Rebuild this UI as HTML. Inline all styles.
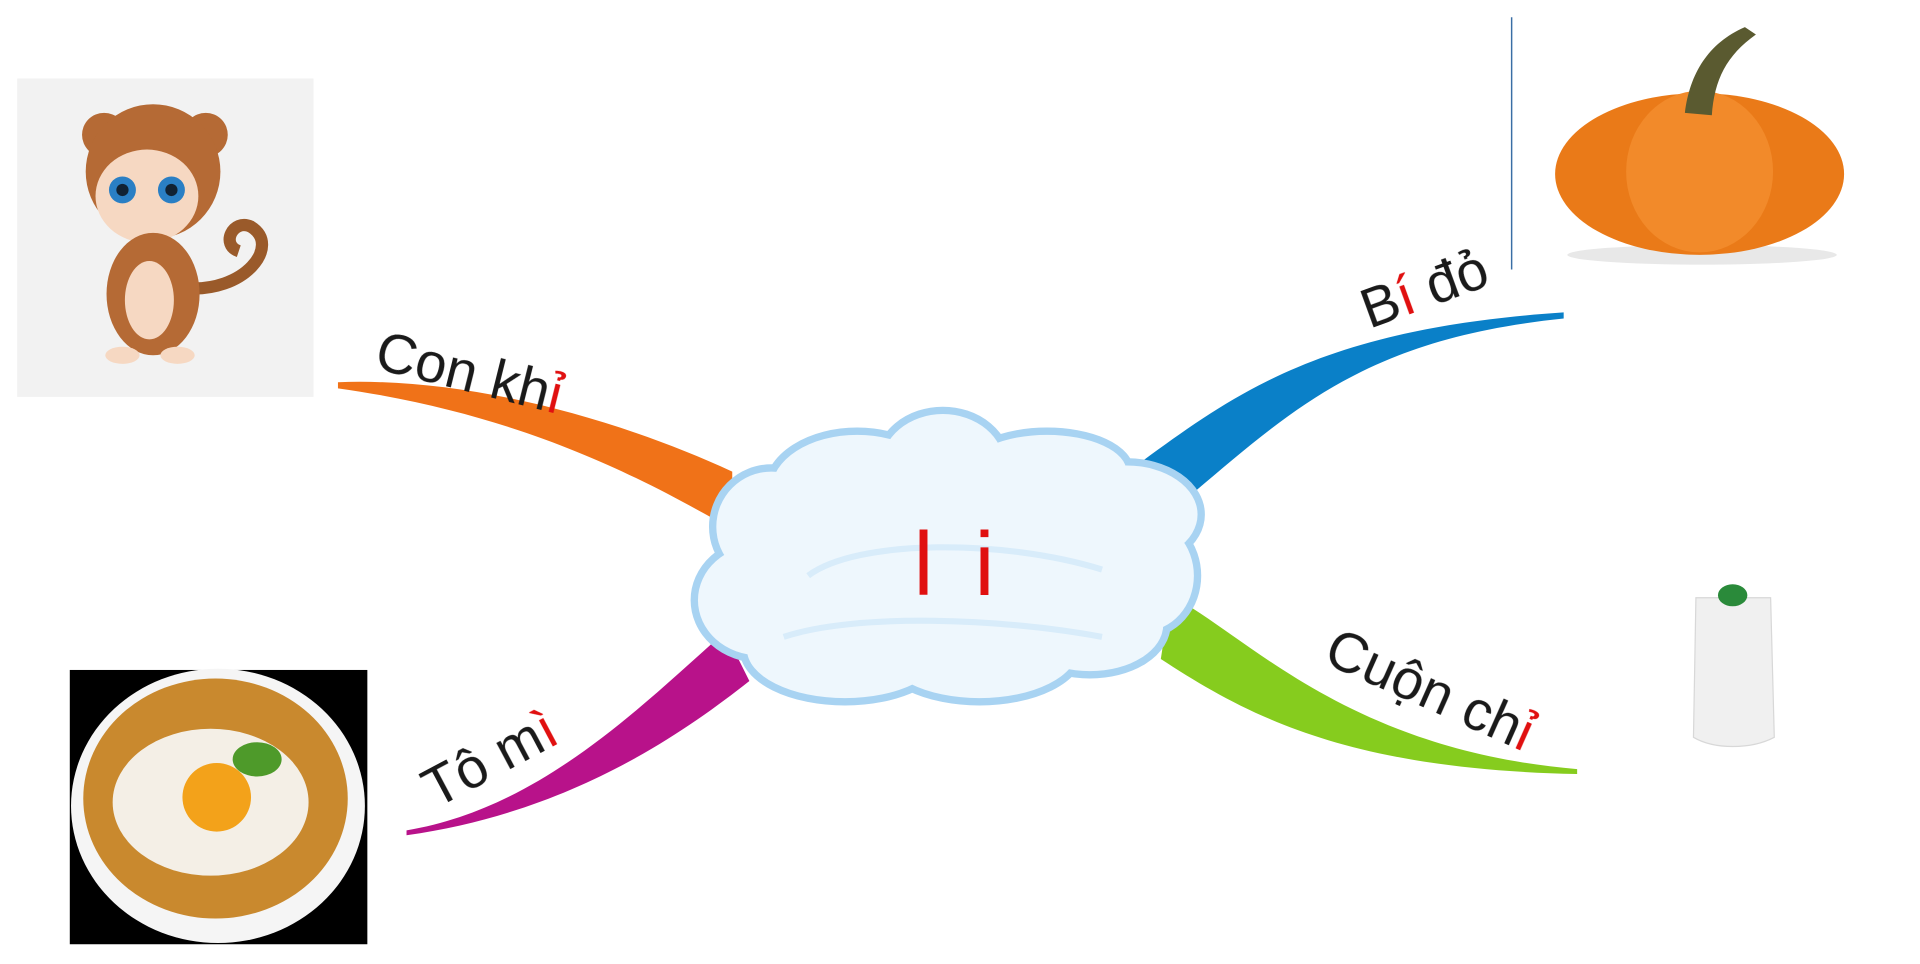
<!DOCTYPE html>
<html><head><meta charset="utf-8"><style>
html,body{margin:0;padding:0;background:#fff;width:1920px;height:964px;overflow:hidden;position:relative}
svg{display:block;position:absolute;left:0;top:0}
.t{position:absolute;font-family:"Liberation Sans",Arial,sans-serif;font-size:56px;line-height:56px;height:56px;color:#1a1a1a;white-space:nowrap;transform-origin:0 46px;text-rendering:geometricPrecision;will-change:transform}
.r{color:#e01010}
.c{position:absolute;font-family:"Liberation Sans",Arial,sans-serif;font-size:90px;line-height:90px;color:#e01010;left:888px;top:520px;width:140px;text-align:center;letter-spacing:8px}
</style></head><body>
<svg width="1920" height="964" viewBox="0 0 1568 787" xmlns="http://www.w3.org/2000/svg">
<path d="M276,312 C380,308 500,340 598,385 L598,432 C540,400 440,340 276,317 Z" fill="#f07218"/>
<path d="M928,380 C1010,320 1080,268 1277,255 L1277,260 C1120,276 1060,330 975,402 Z" fill="#0a80c8"/>
<path d="M592,516 C520,580 440,660 332,678 L332,682 C460,664 550,605 612,556 Z" fill="#b8128a"/>
<path d="M956,486 C1020,520 1100,612 1288,628 L1288,632 C1100,628 1020,585 948,538 Z" fill="#86cc1e"/>
<g fill="none" stroke="#a8d3f2" stroke-width="12">
<ellipse cx="700" cy="400" rx="70" ry="45"/>
<ellipse cx="770" cy="380" rx="50" ry="42"/>
<ellipse cx="855" cy="385" rx="65" ry="30"/>
<ellipse cx="920" cy="420" rx="58" ry="40"/>
<ellipse cx="935" cy="470" rx="40" ry="45"/>
<ellipse cx="890" cy="510" rx="60" ry="38"/>
<ellipse cx="800" cy="530" rx="80" ry="40"/>
<ellipse cx="690" cy="530" rx="80" ry="40"/>
<ellipse cx="620" cy="490" rx="50" ry="45"/>
<ellipse cx="630" cy="430" rx="45" ry="45"/>
</g>
<g fill="#eef7fd">
<ellipse cx="700" cy="400" rx="70" ry="45"/>
<ellipse cx="770" cy="380" rx="50" ry="42"/>
<ellipse cx="855" cy="385" rx="65" ry="30"/>
<ellipse cx="920" cy="420" rx="58" ry="40"/>
<ellipse cx="935" cy="470" rx="40" ry="45"/>
<ellipse cx="890" cy="510" rx="60" ry="38"/>
<ellipse cx="800" cy="530" rx="80" ry="40"/>
<ellipse cx="690" cy="530" rx="80" ry="40"/>
<ellipse cx="620" cy="490" rx="50" ry="45"/>
<ellipse cx="630" cy="430" rx="45" ry="45"/>
<rect x="620" y="400" width="320" height="130"/>
</g>
<path d="M660,470 C700,440 820,440 900,465" fill="none" stroke="#d8ecfa" stroke-width="5"/>
<path d="M640,520 C700,500 820,505 900,520" fill="none" stroke="#d8ecfa" stroke-width="5"/>
<rect x="14" y="64" width="242" height="260" fill="#f2f2f2"/>
<path d="M150,235 C200,240 230,200 205,185 C190,178 180,200 195,205" fill="none" stroke="#9a5a2a" stroke-width="10"/>
<circle cx="85" cy="110" r="18" fill="#b56a35"/>
<circle cx="168" cy="110" r="18" fill="#b56a35"/>
<ellipse cx="125" cy="140" rx="55" ry="55" fill="#b56a35"/>
<ellipse cx="120" cy="160" rx="42" ry="38" fill="#f6d8c2"/>
<circle cx="100" cy="155" r="11" fill="#2a7fc4"/><circle cx="140" cy="155" r="11" fill="#2a7fc4"/>
<circle cx="100" cy="155" r="5" fill="#123"/><circle cx="140" cy="155" r="5" fill="#123"/>
<ellipse cx="125" cy="240" rx="38" ry="50" fill="#b56a35"/>
<ellipse cx="122" cy="245" rx="20" ry="32" fill="#f6d8c2"/>
<ellipse cx="100" cy="290" rx="14" ry="7" fill="#f6d8c2"/><ellipse cx="145" cy="290" rx="14" ry="7" fill="#f6d8c2"/>
<line x1="1234.5" y1="14" x2="1234.5" y2="220" stroke="#3a6ea5" stroke-width="1.2"/>
<ellipse cx="1390" cy="208" rx="110" ry="8" fill="#e8e8e8"/>
<ellipse cx="1388" cy="142" rx="118" ry="66" fill="#ea7a18"/>
<ellipse cx="1388" cy="140" rx="60" ry="66" fill="#f28a2a"/>
<path d="M1376,92 C1380,60 1395,35 1425,22 L1434,28 C1410,45 1400,65 1398,94 Z" fill="#5a5a30"/>
<rect x="57" y="547" width="243" height="224" fill="#000"/>
<ellipse cx="178" cy="658" rx="120" ry="112" fill="#f5f5f5"/>
<ellipse cx="176" cy="652" rx="108" ry="98" fill="#c9892e"/>
<ellipse cx="172" cy="655" rx="80" ry="60" fill="#f4efe6"/>
<circle cx="177" cy="651" r="28" fill="#f3a21a"/>
<ellipse cx="210" cy="620" rx="20" ry="14" fill="#4e9a2a"/>
<path d="M1385,488 L1446,488 L1449,602 C1430,612 1400,612 1383,602 Z" fill="#f0f0f0" stroke="#d8d8d8"/>
<ellipse cx="1415" cy="486" rx="12" ry="9" fill="#2a8a3a"/>
</svg>
<div class="c">l i</div>
<div class="t" style="left:373px;top:321px;transform:rotate(14deg)">Con kh<span class="r">ỉ</span></div>
<div class="t" style="left:1369px;top:282px;transform:rotate(-20deg)">B<span class="r">í</span> đỏ</div>
<div class="t" style="left:435px;top:762px;transform:rotate(-28deg)">Tô m<span class="r">ì</span></div>
<div class="t" style="left:1322px;top:615px;transform:rotate(24deg)">Cuộn ch<span class="r">ỉ</span></div>
</body></html>
